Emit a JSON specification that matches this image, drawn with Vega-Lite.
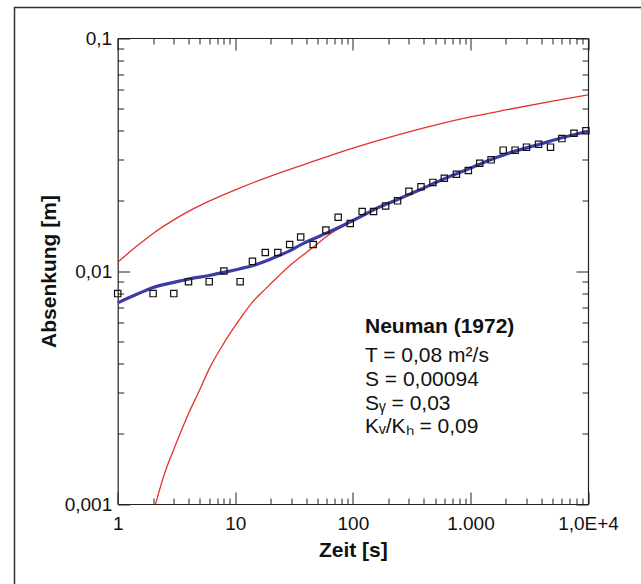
{
  "$schema": "https://vega.github.io/schema/vega-lite/v6.json",
  "width": 627.5,
  "height": 577.5,
  "autosize": "none",
  "padding": {"left": 14.5, "top": 7.5, "right": 0, "bottom": 0},
  "background": "white",
  "config": {
    "view": {"stroke": "#333333", "strokeWidth": 1.5},
    "font": "Liberation Sans"
  },
  "datasets": {
    "redUpper": [
      {"t": 1, "s": 0.0109}, {"t": 1.5, "s": 0.01295}, {"t": 2, "s": 0.0145}, {"t": 3, "s": 0.01658},
      {"t": 4, "s": 0.01802}, {"t": 6, "s": 0.01994}, {"t": 10, "s": 0.02231}, {"t": 20, "s": 0.02554},
      {"t": 40, "s": 0.02884}, {"t": 100, "s": 0.0337}, {"t": 200, "s": 0.03739}, {"t": 500, "s": 0.04231},
      {"t": 1000, "s": 0.04583}, {"t": 2000, "s": 0.04912}, {"t": 5000, "s": 0.05358}, {"t": 10000, "s": 0.05703}
    ],
    "redLower": [
      {"t": 2.1, "s": 0.001}, {"t": 2.5, "s": 0.00135}, {"t": 3.1, "s": 0.00179}, {"t": 4, "s": 0.00244},
      {"t": 5, "s": 0.0031}, {"t": 6, "s": 0.0038}, {"t": 8, "s": 0.0049}, {"t": 11, "s": 0.00624},
      {"t": 14, "s": 0.00735}, {"t": 18, "s": 0.00836}, {"t": 23, "s": 0.00944}, {"t": 29, "s": 0.01054},
      {"t": 36, "s": 0.0115}, {"t": 46, "s": 0.01266}, {"t": 59, "s": 0.014}, {"t": 75, "s": 0.0152},
      {"t": 95, "s": 0.0162}, {"t": 150, "s": 0.0183}, {"t": 240, "s": 0.0203}, {"t": 380, "s": 0.02245},
      {"t": 600, "s": 0.0249}, {"t": 960, "s": 0.0274}, {"t": 1500, "s": 0.0301}, {"t": 2400, "s": 0.0327},
      {"t": 3800, "s": 0.0349}, {"t": 6000, "s": 0.0373}, {"t": 10000, "s": 0.0398}
    ],
    "blue": [
      {"t": 1, "s": 0.0073}, {"t": 1.5, "s": 0.008}, {"t": 2, "s": 0.0085}, {"t": 3, "s": 0.00894},
      {"t": 4, "s": 0.00923}, {"t": 6, "s": 0.00957}, {"t": 8, "s": 0.00986}, {"t": 11, "s": 0.01023},
      {"t": 14, "s": 0.01054}, {"t": 18, "s": 0.011}, {"t": 23, "s": 0.0116}, {"t": 29, "s": 0.0122},
      {"t": 36, "s": 0.01295}, {"t": 46, "s": 0.01373}, {"t": 59, "s": 0.0145}, {"t": 75, "s": 0.01533},
      {"t": 95, "s": 0.01626}, {"t": 120, "s": 0.01725}, {"t": 150, "s": 0.0183}, {"t": 240, "s": 0.02027},
      {"t": 380, "s": 0.02245}, {"t": 600, "s": 0.0249}, {"t": 960, "s": 0.0274}, {"t": 1500, "s": 0.0301},
      {"t": 2400, "s": 0.0327}, {"t": 3800, "s": 0.0349}, {"t": 6000, "s": 0.0373}, {"t": 10000, "s": 0.0398}
    ],
    "obs": [
      {"t": 1, "s": 0.008}, {"t": 2, "s": 0.008}, {"t": 3, "s": 0.008}, {"t": 4, "s": 0.009},
      {"t": 6, "s": 0.009}, {"t": 8, "s": 0.01}, {"t": 11, "s": 0.009}, {"t": 14, "s": 0.011},
      {"t": 18, "s": 0.012}, {"t": 23, "s": 0.012}, {"t": 29, "s": 0.013}, {"t": 36, "s": 0.014},
      {"t": 46, "s": 0.013}, {"t": 59, "s": 0.015}, {"t": 75, "s": 0.017}, {"t": 95, "s": 0.016},
      {"t": 120, "s": 0.018}, {"t": 150, "s": 0.018}, {"t": 190, "s": 0.019}, {"t": 240, "s": 0.02},
      {"t": 300, "s": 0.022}, {"t": 380, "s": 0.023}, {"t": 480, "s": 0.024}, {"t": 600, "s": 0.025},
      {"t": 760, "s": 0.026}, {"t": 960, "s": 0.027}, {"t": 1200, "s": 0.029}, {"t": 1500, "s": 0.03},
      {"t": 1900, "s": 0.033}, {"t": 2400, "s": 0.033}, {"t": 3000, "s": 0.034}, {"t": 3800, "s": 0.035},
      {"t": 4800, "s": 0.034}, {"t": 6000, "s": 0.037}, {"t": 7600, "s": 0.039}, {"t": 9600, "s": 0.04}
    ],
    "annTitle": [
      {"tx": 126.8, "ty": 0.00542, "label": "Neuman (1972)"}
    ],
    "ann": [
      {"tx": 126.8, "ty": 0.00408, "label": "T = 0,08 m²/s"},
      {"tx": 126.8, "ty": 0.00321, "label": "S = 0,00094"},
      {"tx": 126.8, "ty": 0.00253, "label": "Sᵧ = 0,03"},
      {"tx": 126.8, "ty": 0.00202, "label": "Kᵥ/Kₕ = 0,09"}
    ]
  },
  "resolve": {"scale": {"x": "shared", "y": "shared"}, "axis": {"x": "independent", "y": "independent"}},
  "layer": [
    {
      "data": {"name": "redUpper"},
      "mark": {"type": "line", "color": "#e4322b", "strokeWidth": 1.3, "interpolate": "monotone"},
      "encoding": {
        "x": {"field": "t", "type": "quantitative",
          "scale": {"type": "log", "domain": [1, 10000], "range": [103.2, 573.5]},
          "axis": {"orient": "bottom", "offset": -81, "values": [1, 10, 100, 1000, 10000], "ticks": false,
            "domain": true, "domainColor": "#222222", "domainWidth": 1.2, "grid": false,
            "labelExpr": "datum.value == 1000 ? '1.000' : datum.value == 10000 ? '1,0E+4' : toString(datum.value)",
            "labelFlush": false, "labelOverlap": false, "labelFont": "Liberation Sans", "labelFontSize": 19,
            "labelColor": "#111111", "labelPadding": 10,
            "title": "Zeit [s]", "titleFont": "Liberation Sans", "titleFontSize": 21, "titleFontWeight": "bold",
            "titleColor": "#111111", "titlePadding": 6}},
        "y": {"field": "s", "type": "quantitative",
          "scale": {"type": "log", "domain": [0.001, 0.1], "range": [496.5, 30.5]},
          "axis": {"orient": "left", "offset": -103.2, "values": [0.001, 0.01, 0.1], "ticks": false,
            "domain": true, "domainColor": "#222222", "domainWidth": 1.2, "grid": false,
            "labelExpr": "replace(toString(datum.value), '.', ',')",
            "labelFlush": false, "labelOverlap": false, "labelFont": "Liberation Sans", "labelFontSize": 19,
            "labelColor": "#111111", "labelPadding": 6,
            "title": "Absenkung [m]", "titleFont": "Liberation Sans", "titleFontSize": 21, "titleFontWeight": "bold",
            "titleColor": "#111111", "titlePadding": 5}}
      }
    },
    {
      "data": {"name": "redLower"},
      "mark": {"type": "line", "color": "#e4322b", "strokeWidth": 1.3, "interpolate": "monotone"},
      "encoding": {
        "x": {"field": "t", "type": "quantitative",
          "scale": {"type": "log", "domain": [1, 10000], "range": [103.2, 573.5]},
          "axis": {"orient": "bottom", "offset": -81, "values": [1, 10, 100, 1000, 10000], "ticks": true,
            "tickSize": -12, "tickColor": "#222222", "tickWidth": 1, "labels": false, "domain": false,
            "grid": false, "title": null}},
        "y": {"field": "s", "type": "quantitative",
          "scale": {"type": "log", "domain": [0.001, 0.1], "range": [496.5, 30.5]},
          "axis": {"orient": "left", "offset": -103.2, "values": [0.001, 0.01, 0.1], "ticks": true,
            "tickSize": -12, "tickColor": "#222222", "tickWidth": 1, "labels": false, "domain": false,
            "grid": false, "title": null}}
      }
    },
    {
      "data": {"name": "blue"},
      "mark": {"type": "line", "color": "#3c3ca3", "strokeWidth": 3.2, "interpolate": "monotone"},
      "encoding": {
        "x": {"field": "t", "type": "quantitative",
          "scale": {"type": "log", "domain": [1, 10000], "range": [103.2, 573.5]},
          "axis": {"orient": "bottom", "offset": -81,
            "values": [2, 3, 4, 5, 6, 7, 8, 9, 20, 30, 40, 50, 60, 70, 80, 90, 200, 300, 400, 500, 600, 700, 800, 900, 2000, 3000, 4000, 5000, 6000, 7000, 8000, 9000],
            "ticks": true, "tickSize": -6, "tickColor": "#222222", "tickWidth": 1, "labels": false,
            "domain": false, "grid": false, "title": null}},
        "y": {"field": "s", "type": "quantitative",
          "scale": {"type": "log", "domain": [0.001, 0.1], "range": [496.5, 30.5]},
          "axis": {"orient": "left", "offset": -103.2,
            "values": [0.002, 0.003, 0.004, 0.005, 0.006, 0.007, 0.008, 0.009, 0.02, 0.03, 0.04, 0.05, 0.06, 0.07, 0.08, 0.09],
            "ticks": true, "tickSize": -6, "tickColor": "#222222", "tickWidth": 1, "labels": false,
            "domain": false, "grid": false, "title": null}}
      }
    },
    {
      "data": {"name": "obs"},
      "mark": {"type": "point", "shape": "square", "filled": false, "size": 40, "stroke": "#111111", "strokeWidth": 1.2, "opacity": 1},
      "encoding": {
        "x": {"field": "t", "type": "quantitative",
          "scale": {"type": "log", "domain": [1, 10000], "range": [103.2, 573.5]},
          "axis": {"orient": "top", "offset": -30.5, "values": [1, 10, 100, 1000, 10000], "ticks": true,
            "tickSize": -12, "tickColor": "#222222", "tickWidth": 1, "labels": false,
            "domain": true, "domainColor": "#222222", "domainWidth": 1.2, "grid": false, "title": null}},
        "y": {"field": "s", "type": "quantitative",
          "scale": {"type": "log", "domain": [0.001, 0.1], "range": [496.5, 30.5]},
          "axis": {"orient": "right", "offset": -54, "values": [0.001, 0.01, 0.1], "ticks": true,
            "tickSize": -12, "tickColor": "#222222", "tickWidth": 1, "labels": false,
            "domain": true, "domainColor": "#222222", "domainWidth": 1.2, "grid": false, "title": null}}
      }
    },
    {
      "data": {"name": "annTitle"},
      "mark": {"type": "text", "align": "left", "baseline": "alphabetic", "font": "Liberation Sans", "fontSize": 21, "fontWeight": "bold", "color": "#111111"},
      "encoding": {
        "x": {"field": "tx", "type": "quantitative",
          "scale": {"type": "log", "domain": [1, 10000], "range": [103.2, 573.5]},
          "axis": {"orient": "top", "offset": -30.5,
            "values": [2, 3, 4, 5, 6, 7, 8, 9, 20, 30, 40, 50, 60, 70, 80, 90, 200, 300, 400, 500, 600, 700, 800, 900, 2000, 3000, 4000, 5000, 6000, 7000, 8000, 9000],
            "ticks": true, "tickSize": -6, "tickColor": "#222222", "tickWidth": 1, "labels": false,
            "domain": false, "grid": false, "title": null}},
        "y": {"field": "ty", "type": "quantitative",
          "scale": {"type": "log", "domain": [0.001, 0.1], "range": [496.5, 30.5]},
          "axis": {"orient": "right", "offset": -54,
            "values": [0.002, 0.003, 0.004, 0.005, 0.006, 0.007, 0.008, 0.009, 0.02, 0.03, 0.04, 0.05, 0.06, 0.07, 0.08, 0.09],
            "ticks": true, "tickSize": -6, "tickColor": "#222222", "tickWidth": 1, "labels": false,
            "domain": false, "grid": false, "title": null}},
        "text": {"field": "label", "type": "nominal"}
      }
    },
    {
      "data": {"name": "ann"},
      "mark": {"type": "text", "align": "left", "baseline": "alphabetic", "font": "Liberation Sans", "fontSize": 21, "color": "#111111"},
      "encoding": {
        "x": {"field": "tx", "type": "quantitative", "scale": {"type": "log", "domain": [1, 10000], "range": [103.2, 573.5]}, "axis": null},
        "y": {"field": "ty", "type": "quantitative", "scale": {"type": "log", "domain": [0.001, 0.1], "range": [496.5, 30.5]}, "axis": null},
        "text": {"field": "label", "type": "nominal"}
      }
    }
  ]
}
